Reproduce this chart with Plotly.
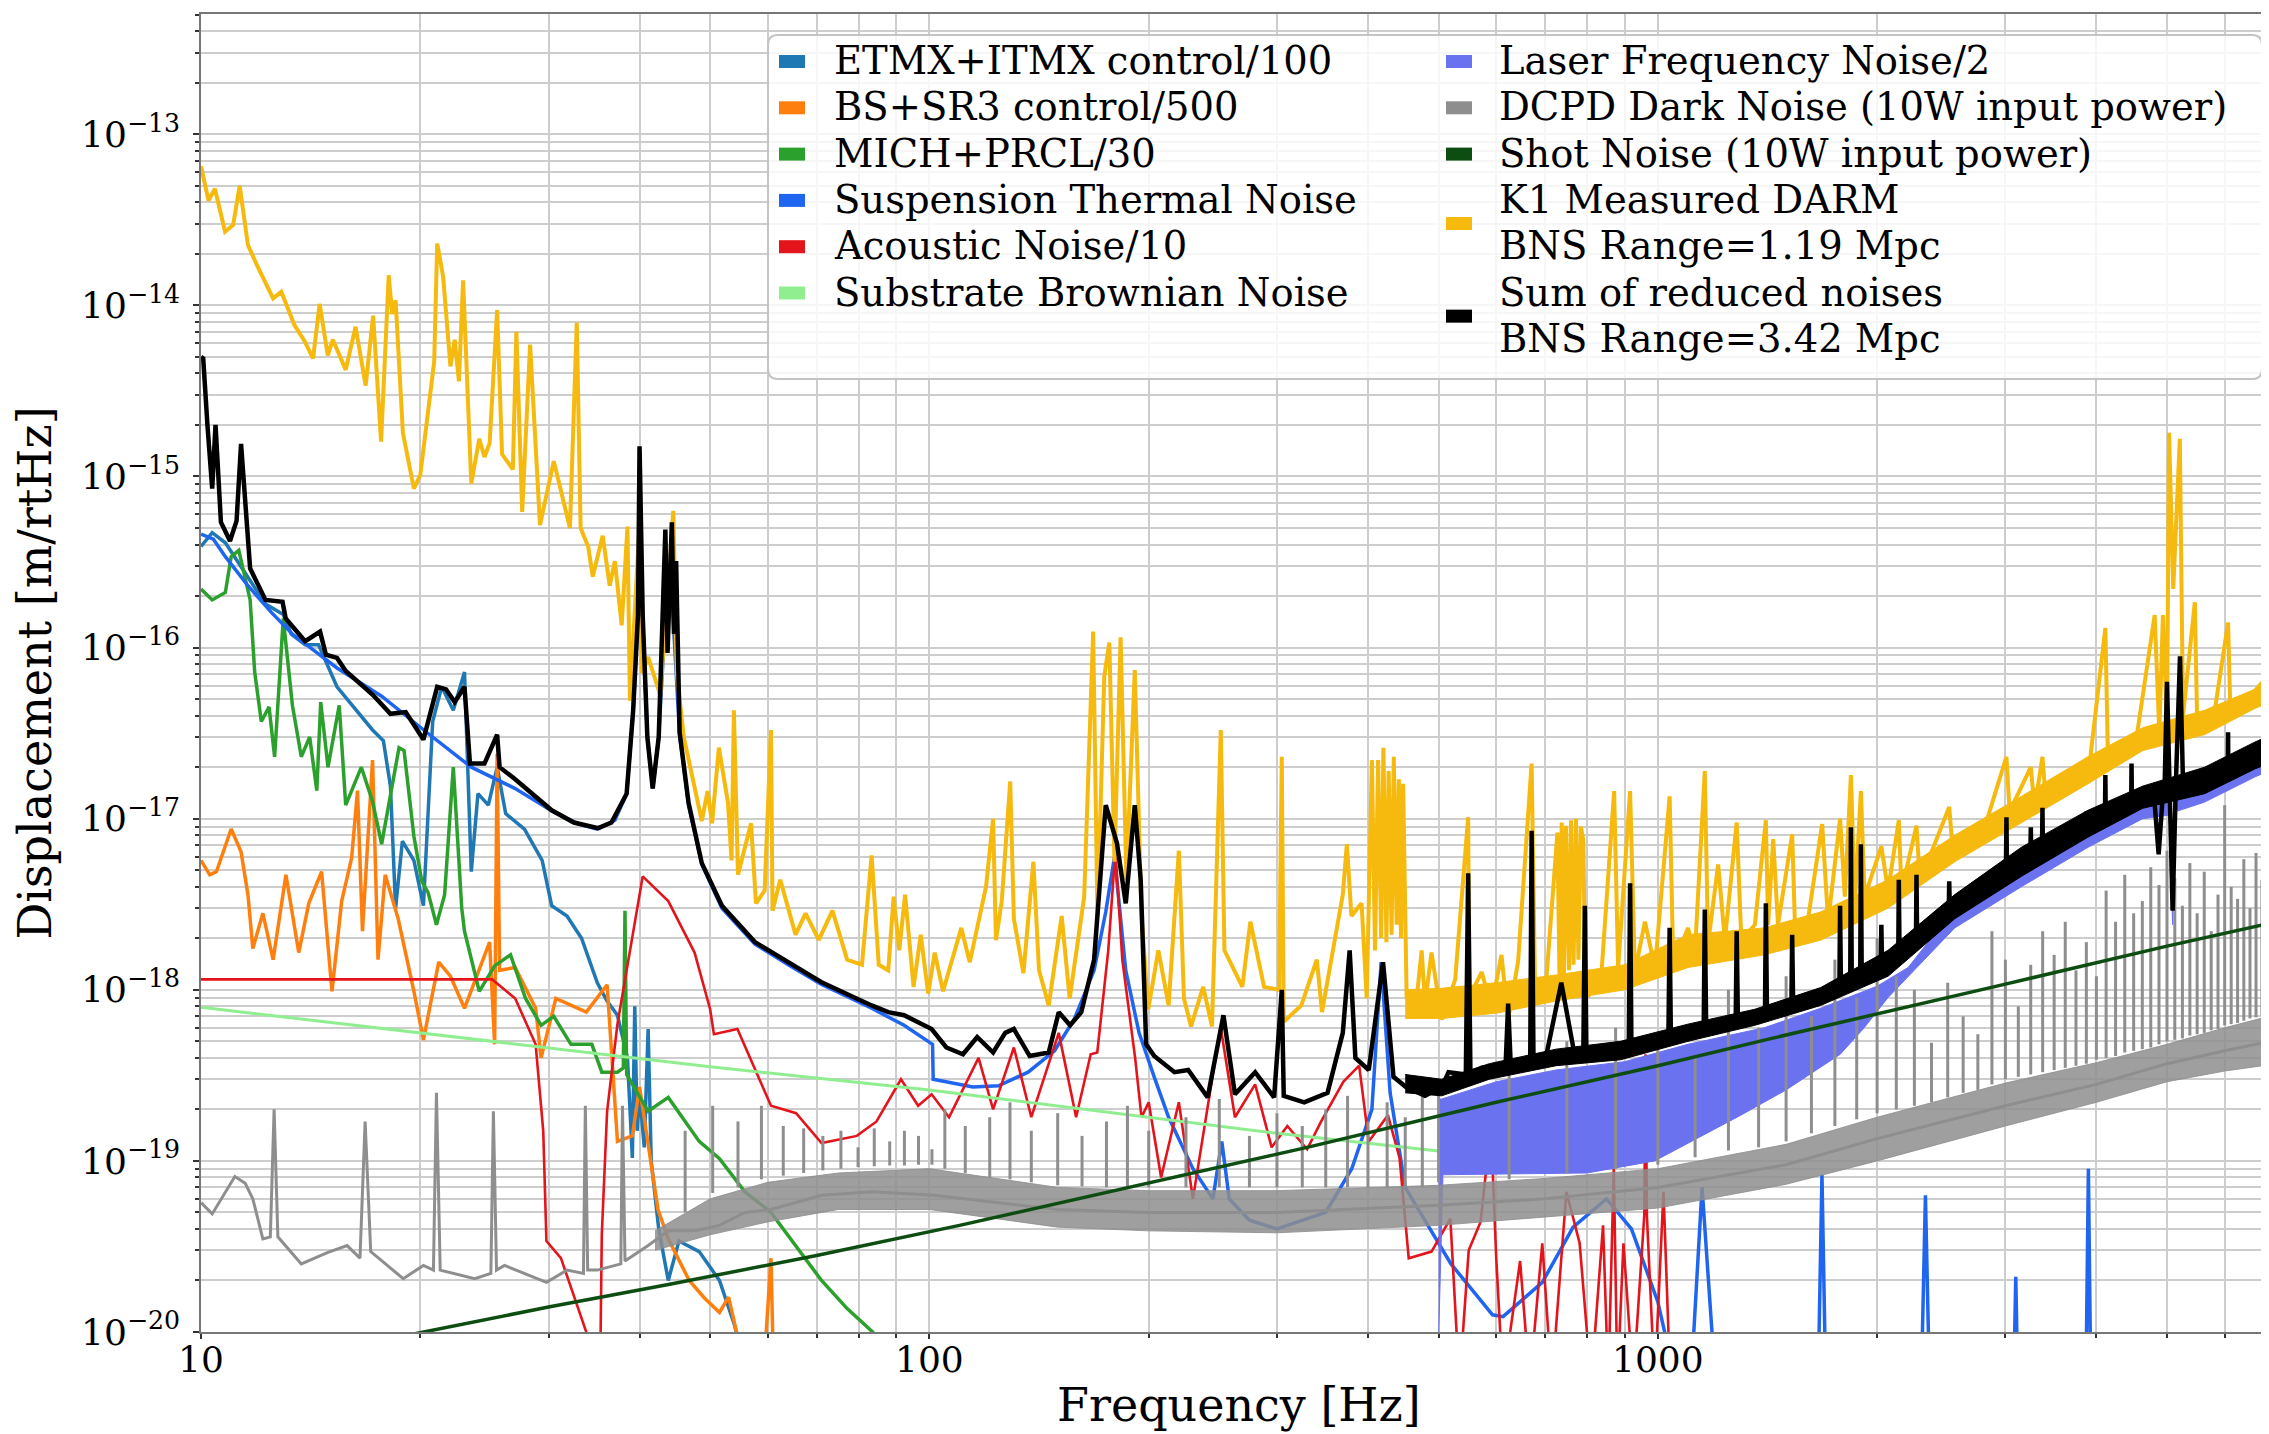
import plotly.graph_objects as go

# ---------------- data (frequency [Hz], displacement [m/rtHz]) ----------------
ETMX_PTS = [(10.0, 3.9e-16), (10.36, 4.7e-16), (10.8, 4.1e-16), (11.6, 2.6e-16), (12.26, 1.8e-16), (12.97, 1.56e-16),
            (13.3, 1.2e-16), (13.9, 1.04e-16), (14.5, 1.04e-16), (15.37, 5.9e-17), (16.37, 4.3e-17), (17.2, 3.3e-17),
            (17.8, 2.85e-17), (18.2, 1.55e-17), (18.5, 3.0e-18), (18.9, 7.4e-18), (19.6, 5.7e-18), (20.2, 3.1e-18),
            (20.8, 3.7e-17), (21.4, 5.9e-17), (22.2, 4.3e-17), (23.0, 7.2e-17), (23.5, 4.9e-18), (24.0, 1.4e-17),
            (24.8, 1.2e-17), (25.5, 2.0e-17), (26.2, 1.07e-17), (27.8, 8.7e-18), (29.4, 5.7e-18), (30.3, 3.1e-18),
            (31.8, 2.7e-18), (33.3, 2.0e-18), (35.0, 1.1e-18), (36.1, 8.6e-19), (37.3, 7.1e-19), (38.5, 4.0e-19),
            (39.1, 1.04e-19), (39.4, 8.0e-19), (39.7, 1.5e-19), (40.0, 2.5e-19), (40.6, 1.2e-19), (41.1, 5.9e-19),
            (41.5, 1.0e-19), (42.5, 4.0e-20), (43.8, 2.0e-20), (45.3, 3.4e-20), (48.3, 2.95e-20), (51.5, 2.0e-20),
            (54.0, 1.1e-20), (56.0, 6e-21)]

BS_PTS = [(10.0, 5.7e-18), (10.28, 4.7e-18), (10.5, 4.9e-18), (11.0, 8.7e-18), (11.35, 6.4e-18), (11.6, 3.6e-18),
          (11.78, 1.74e-18), (12.16, 2.8e-18), (12.56, 1.5e-18), (13.08, 4.7e-18), (13.62, 1.65e-18), (14.06, 3.2e-18),
          (14.64, 4.9e-18), (15.13, 9.8e-19), (15.6, 3.3e-18), (16.1, 5.9e-18), (16.4, 1.46e-17), (16.66, 2.2e-18),
          (17.2, 2.2e-17), (17.5, 1.5e-18), (17.9, 4.7e-18), (18.65, 2.6e-18), (19.6, 9.8e-19), (20.2, 5.1e-19),
          (21.2, 1.45e-18), (22.0, 1.2e-18), (23.0, 7.8e-19), (24.9, 1.9e-18), (25.3, 4.8e-19), (25.5, 2.4e-17),
          (25.7, 1.3e-18), (27.0, 1.35e-18), (28.8, 7.8e-19), (29.3, 4.0e-19), (30.7, 8.9e-19), (33.8, 7.4e-19),
          (36.1, 1.07e-18), (37.3, 1.3e-19), (39.1, 1.4e-19), (40.0, 2.7e-19), (42.4, 5.2e-20), (43.8, 3.5e-20),
          (46.8, 2.0e-20), (49.1, 1.58e-20), (51.5, 1.3e-20), (53.0, 1.6e-20), (55.0, 8e-21), (59.5, 8e-21),
          (60.6, 2.7e-20), (61.0, 8e-21)]

MICH_PTS = [(10.0, 2.2e-16), (10.36, 1.9e-16), (10.8, 2.1e-16), (11.0, 3.4e-16), (11.27, 3.7e-16), (11.68, 1.9e-16),
            (11.85, 7.2e-17), (12.1, 3.7e-17), (12.4, 4.5e-17), (12.62, 2.3e-17), (12.97, 1.48e-16), (13.35, 4.6e-17),
            (13.73, 2.3e-17), (14.1, 3.0e-17), (14.42, 1.46e-17), (14.6, 4.8e-17), (14.94, 2.0e-17), (15.48, 4.6e-17),
            (15.8, 1.2e-17), (16.6, 2.0e-17), (17.2, 1.26e-17), (17.7, 7.1e-18), (18.7, 2.6e-17), (19.0, 2.5e-17),
            (19.6, 7.9e-18), (20.1, 4.3e-18), (20.5, 3.7e-18), (21.05, 2.4e-18), (21.6, 3.6e-18), (22.2, 2.0e-17),
            (22.8, 3.0e-18), (23.0, 2.2e-18), (24.1, 9.8e-19), (25.3, 1.38e-18), (26.6, 1.6e-18), (27.9, 8.9e-19),
            (29.3, 6.2e-19), (30.5, 7.0e-19), (32.2, 4.8e-19), (34.4, 4.8e-19), (35.5, 3.3e-19), (37.3, 3.3e-19),
            (38.0, 3.5e-19), (38.2, 2.9e-18), (38.4, 3.2e-19), (41.1, 1.95e-19), (43.8, 2.35e-19), (48.3, 1.3e-19),
            (51.5, 1.03e-19), (55.8, 6.6e-20), (60.6, 5.0e-20), (65.6, 3.2e-20), (71.1, 2.0e-20), (77.1, 1.37e-20),
            (83.6, 1.0e-20), (86.0, 8e-21)]

SUS_PTS = [(10.0, 4.6e-16), (10.4, 4.3e-16), (10.8, 3.4e-16), (11.6, 2.3e-16), (12.5, 1.6e-16), (13.35, 1.2e-16),
           (15.37, 7.6e-17), (17.7, 5.2e-17), (20.4, 3.2e-17), (23.5, 2.0e-17), (27.0, 1.5e-17), (30.2, 1.12e-17),
           (33.0, 9.3e-18), (35.0, 8.7e-18), (37.0, 9.8e-18), (38.4, 1.4e-17), (39.2, 4.2e-17), (39.8, 1.5e-16),
           (40.2, 2.5e-16), (40.6, 9.0e-17), (41.0, 3.0e-17), (41.7, 1.5e-17), (42.5, 3.0e-17), (43.4, 1.5e-16),
           (44.0, 3.5e-16), (44.6, 1.2e-16), (45.4, 3.1e-17), (46.7, 1.2e-17), (48.7, 5.4e-18), (51.9, 3.0e-18),
           (57.6, 1.85e-18), (64.0, 1.4e-18), (71.0, 1.08e-18), (83.3, 7.8e-19), (92.3, 6.2e-19), (101.0, 4.8e-19),
           (101.2, 3.0e-19), (114.7, 2.7e-19), (124.4, 2.75e-19), (136.6, 3.3e-19), (148.5, 4.4e-19), (158.0, 6.7e-19),
           (168.3, 1.3e-18), (174.6, 2.85e-18), (179.5, 6.0e-18), (186.0, 1.3e-18), (194.0, 5.6e-19), (203.5, 3.1e-19),
           (213.0, 1.8e-19), (230.0, 9.0e-20), (245.0, 6.0e-20), (252.0, 1.3e-19), (258.0, 6.0e-20), (275.0, 4.5e-20),
           (300.0, 4.0e-20), (350.0, 5.0e-20), (380.0, 9.0e-20), (405.0, 2.0e-19), (417.0, 1.45e-18), (429.0, 2.5e-19),
           (450.0, 7.0e-20), (520.0, 2.5e-20), (593.0, 1.26e-20), (613.0, 1.23e-20), (694.0, 1.95e-20), (765.0, 4.1e-20),
           (850.0, 6.0e-20), (920.0, 4.0e-20), (1000.0, 1.5e-20), (1060.0, 5e-21), (1110.0, 5e-21), (1150.0, 7.0e-20),
           (1200.0, 5e-21), (1660.0, 5e-21), (1680.0, 8.3e-20), (1700.0, 5e-21), (2300.0, 5e-21), (2330.0, 6.3e-20),
           (2360.0, 5e-21), (3080.0, 5e-21), (3100.0, 2.1e-20), (3120.0, 5e-21), (3870.0, 5e-21), (3900.0, 9.0e-20),
           (3930.0, 5e-21), (6950.0, 5e-21), (7050.0, 1.7e-20), (7080.0, 1.2e-20)]

ACOUSTIC_PTS = [(10.0, 1.15e-18), (25.1, 1.15e-18), (27.0, 8.9e-19), (28.8, 4.8e-19), (29.5, 1.5e-19), (29.8, 3.4e-20),
                (31.2, 2.7e-20), (33.8, 1.0e-20), (34.5, 5e-21), (35.3, 5e-21), (35.5, 3.7e-20), (36.1, 1.95e-19),
                (37.3, 6.3e-19), (40.4, 4.6e-18), (43.8, 3.3e-18), (47.6, 1.65e-18), (50.0, 7.7e-19), (50.6, 5.5e-19),
                (54.5, 5.9e-19), (60.6, 2.1e-19), (65.6, 1.9e-19), (71.1, 1.27e-19), (79.5, 1.4e-19), (84.6, 1.7e-19),
                (91.4, 3.0e-19), (96.5, 2.1e-19), (100.7, 2.45e-19), (106.4, 1.8e-19), (116.8, 4.0e-19), (122.3, 2.0e-19),
                (130.6, 4.6e-19), (138.0, 1.8e-19), (150.5, 5.6e-19), (159.0, 1.8e-19), (166.5, 4.2e-19), (170.0, 4.3e-19),
                (176.0, 1.7e-18), (180.0, 6.5e-18), (184.0, 1.5e-18), (191.6, 4.0e-19), (195.5, 1.8e-19), (200.0, 2.2e-19),
                (208.0, 8.0e-20), (220.0, 2.2e-19), (230.0, 6.0e-20), (251.0, 6.1e-19), (262.7, 1.8e-19), (280.0, 2.8e-19),
                (295.0, 1.2e-19), (310.0, 1.6e-19), (330.0, 1.17e-19), (345.0, 1.7e-19), (370.0, 2.9e-19), (389.0, 3.6e-19),
                (401.0, 1.3e-19), (426.0, 1.85e-19), (442.0, 1.04e-19), (455.0, 2.7e-20), (489.0, 2.95e-20), (519.0, 4.6e-20),
                (534.0, 5e-21), (550.0, 3.0e-20), (571.0, 4.4e-20), (590.0, 1.6e-19), (600.0, 2.7e-20), (613.0, 5e-21),
                (647.0, 2.6e-20), (667.0, 5e-21), (694.0, 3.3e-20), (715.0, 5e-21), (749.0, 6.6e-20), (781.0, 3.3e-20),
                (810.0, 5e-21), (841.0, 4.2e-20), (855.0, 5e-21), (870.0, 9.0e-20), (880.0, 5e-21), (897.0, 3.3e-20),
                (925.0, 5e-21), (958.0, 4.8e-20), (962.0, 4.2e-19), (966.0, 4.8e-20), (990.0, 5e-21), (1018.0, 6.6e-20),
                (1040.0, 5e-21)]

SUBSTRATE_PTS = [(10.0, 7.9e-19), (20.0, 5.6e-19), (50.0, 3.55e-19), (100.0, 2.6e-19), (200.0, 1.8e-19),
                 (300.0, 1.45e-19), (503.0, 1.14e-19)]

LASER_UPPER = [(500, 2.3e-19), (505, 2.3e-19), (600, 2.9e-19), (725, 3.4e-19), (900, 3.8e-19), (1100, 4.8e-19),
               (1400, 6.0e-19), (1673, 7.8e-19), (2000, 1.05e-18), (2206, 1.35e-18), (2556, 3.0e-18), (3155, 5.5e-18),
               (3895, 9.0e-18), (4630, 1.3e-17), (5040, 1.3e-17), (5090, 3.2e-18), (5140, 1.35e-17), (5632, 1.6e-17),
               (6597, 2.3e-17), (7080, 2.6e-17)]
LASER_LOWER = [(500, 9e-21), (507, 8.3e-20), (800, 8.5e-20), (990, 1.0e-19), (1300, 1.85e-19), (1500, 2.6e-19),
               (1780, 4.2e-19), (1920, 6.0e-19), (2070, 9.0e-19), (2556, 2.3e-18), (3155, 4.0e-18), (3895, 6.8e-18),
               (4630, 1.0e-17), (5040, 1.05e-17), (5090, 2.4e-18), (5140, 1.1e-17), (5632, 1.25e-17), (6597, 1.75e-17),
               (7080, 2.0e-17)]

DCPD_PTS = [(10.0, 5.7e-20), (10.36, 4.9e-20), (11.13, 8.1e-20), (11.5, 7.4e-20), (11.78, 6.0e-20), (12.16, 3.5e-20),
            (12.45, 3.6e-20), (12.6, 2.0e-19), (12.75, 3.6e-20), (13.73, 2.5e-20), (14.88, 2.9e-20), (15.87, 3.2e-20),
            (16.53, 2.7e-20), (16.8, 1.7e-19), (17.1, 2.95e-20), (18.95, 2.05e-20), (20.2, 2.45e-20), (20.85, 2.3e-20),
            (21.05, 2.5e-19), (21.3, 2.3e-20), (23.75, 2.05e-20), (25.0, 2.2e-20), (25.2, 1.95e-19), (25.45, 2.3e-20),
            (26.1, 2.45e-20), (29.8, 1.95e-20), (31.8, 2.3e-20), (33.5, 2.2e-20), (33.7, 2.1e-19), (33.95, 2.3e-20),
            (35.0, 2.3e-20), (37.7, 2.5e-20), (37.9, 2.1e-19), (38.2, 2.6e-20), (41.1, 3.2e-20), (43.8, 3.9e-20),
            (47.6, 3.9e-20), (51.5, 4.2e-20), (55.8, 5.0e-20), (60.6, 5.2e-20), (71.1, 6.3e-20), (83.6, 6.6e-20),
            (101.5, 6.3e-20), (150, 5.2e-20), (200, 5.0e-20), (300, 5.0e-20), (500, 5.5e-20), (700, 6.0e-20),
            (1000, 7.0e-20), (1500, 9.5e-20), (2000, 1.35e-19), (3000, 2.1e-19), (4000, 2.8e-19), (5000, 3.7e-19),
            (6000, 4.4e-19), (7080, 5.1e-19)]
# (frequency, lower edge, upper edge) of the dense noise band
DCPD_BAND = [(42, 3.0e-20, 3.9e-20), (50, 3.7e-20, 6.0e-20), (60, 4.4e-20, 7.5e-20), (75, 5.2e-20, 8.5e-20),
             (100, 5.2e-20, 9.0e-20), (150, 4.1e-20, 7.0e-20), (200, 3.9e-20, 6.7e-20), (300, 3.8e-20, 6.7e-20),
             (500, 4.2e-20, 7.2e-20), (700, 4.7e-20, 7.9e-20), (1000, 5.3e-20, 9.0e-20), (1500, 7.3e-20, 1.25e-19),
             (2000, 1.0e-19, 1.8e-19), (3000, 1.6e-19, 2.85e-19), (4000, 2.2e-19, 3.75e-19), (5000, 2.9e-19, 4.8e-19),
             (6000, 3.35e-19, 6.0e-19), (7080, 3.7e-19, 7.2e-19)]
# (frequency, base, peak) of the comb lines
DCPD_LINES = [(46.2, 5e-20, 1.5e-19), (50.4, 6.5e-20, 2.1e-19), (54.6, 7e-20, 1.7e-19), (58.8, 7.8e-20, 2.1e-19),
              (63.0, 8.2e-20, 1.6e-19), (67.2, 8.5e-20, 1.55e-19), (71.4, 8.8e-20, 1.4e-19), (75.6, 9e-20, 1.5e-19),
              (79.8, 9.2e-20, 1.2e-19), (84.0, 9.3e-20, 1.55e-19), (88.2, 9.4e-20, 1.3e-19), (92.4, 9.4e-20, 1.5e-19),
              (96.6, 9.5e-20, 1.4e-19), (100.8, 9.5e-20, 1.17e-19), (105, 9e-20, 2.0e-19), (112, 8.5e-20, 1.6e-19),
              (121, 8e-20, 1.8e-19), (129, 7.8e-20, 2.2e-19), (138, 7.5e-20, 1.5e-19), (150, 7.2e-20, 1.9e-19),
              (162, 7.1e-20, 1.4e-19), (175, 7e-20, 1.7e-19), (187, 7e-20, 2.1e-19), (200, 7e-20, 1.5e-19),
              (225, 7e-20, 1.8e-19), (250, 7e-20, 2.3e-19), (275, 7e-20, 1.4e-19), (300, 7e-20, 1.9e-19),
              (325, 7e-20, 1.6e-19), (350, 7e-20, 2.0e-19), (375, 7e-20, 2.4e-19), (400, 7e-20, 1.7e-19),
              (425, 7e-20, 2.2e-19), (450, 7e-20, 1.8e-19), (475, 7e-20, 2.5e-19), (500, 7.5e-20, 3e-19),
              (625, 7.8e-20, 4e-19), (750, 8.4e-20, 5e-19), (875, 9e-20, 6e-19), (1000, 9.5e-20, 5e-19),
              (1125, 1.05e-19, 4e-19), (1250, 1.15e-19, 1.0e-18), (1375, 1.2e-19, 6e-19), (1500, 1.3e-19, 1.2e-18),
              (1625, 1.45e-19, 7e-19), (1750, 1.6e-19, 1.5e-18), (1875, 1.75e-19, 9e-19), (2000, 1.9e-19, 2.0e-18),
              (2125, 2.0e-19, 1.2e-18), (2250, 2.1e-19, 1.0e-18), (2375, 2.2e-19, 4.9e-19), (2500, 2.35e-19, 1.1e-18),
              (2625, 2.5e-19, 7e-19), (2750, 2.6e-19, 5.5e-19), (2875, 2.8e-19, 2.2e-18), (3000, 3.0e-19, 1.5e-18),
              (3125, 3.1e-19, 8e-19), (3250, 3.2e-19, 1.4e-18), (3375, 3.3e-19, 2.2e-18), (3500, 3.4e-19, 1.6e-18),
              (3625, 3.5e-19, 2.5e-18), (3750, 3.6e-19, 1.3e-18), (3875, 3.7e-19, 1.9e-18), (4000, 3.9e-19, 1.2e-18),
              (4125, 4.0e-19, 3.8e-18), (4250, 4.1e-19, 2.5e-18), (4375, 4.3e-19, 4.7e-18), (4500, 4.4e-19, 2.8e-18),
              (4625, 4.5e-19, 3.3e-18), (4750, 4.6e-19, 5.2e-18), (4875, 4.8e-19, 4.1e-18), (5000, 5.0e-19, 6.5e-18),
              (5125, 5.1e-19, 4.5e-18), (5250, 5.2e-19, 3.1e-18), (5375, 5.4e-19, 5.5e-18), (5500, 5.5e-19, 2.8e-18),
              (5625, 5.6e-19, 4.9e-18), (5750, 5.8e-19, 2.2e-18), (5875, 5.9e-19, 3.6e-18), (6000, 6.2e-19, 1.2e-17),
              (6125, 6.3e-19, 4e-18), (6250, 6.4e-19, 3.4e-18), (6375, 6.6e-19, 5.8e-18), (6500, 6.8e-19, 3e-18),
              (6625, 6.9e-19, 6.3e-18), (6750, 7.1e-19, 4.4e-18), (6875, 7.3e-19, 5.1e-18), (7000, 7.5e-19, 3.8e-18)]

SHOT_PTS = [(19.5, 9.7e-21), (30, 1.4e-20), (44, 1.9e-20), (70, 2.8e-20), (110, 4.2e-20), (200, 7.4e-20),
            (330, 1.2e-19), (600, 2.2e-19), (1000, 3.6e-19), (1405, 5.1e-19), (2000, 7.2e-19), (3000, 1.08e-18),
            (5000, 1.8e-18), (7080, 2.5e-18)]

K1_PTS = [(10.0, 6.5e-14), (10.24, 4.1e-14), (10.45, 4.8e-14), (10.79, 2.7e-14), (11.07, 2.95e-14), (11.3, 5.0e-14),
          (11.6, 2.25e-14), (11.98, 1.66e-14), (12.56, 1.1e-14), (12.89, 1.2e-14), (13.43, 7.7e-15), (13.87, 6.2e-15),
          (14.25, 4.9e-15), (14.55, 1.02e-14), (14.93, 5.1e-15), (15.17, 6.3e-15), (15.8, 4.2e-15), (16.3, 7.5e-15),
          (16.83, 3.4e-15), (17.23, 8.7e-15), (17.67, 1.6e-15), (18.1, 1.5e-14), (18.3, 8.9e-15), (18.5, 1.07e-14),
          (18.93, 1.8e-15), (19.6, 8.5e-16), (20.0, 1.02e-15), (20.9, 4.7e-15), (21.1, 2.3e-14), (21.5, 1.47e-14),
          (22.0, 4.4e-15), (22.3, 6.3e-15), (22.6, 3.6e-15), (22.9, 1.4e-14), (23.5, 9.1e-16), (24.1, 1.66e-15),
          (24.5, 1.3e-15), (24.9, 1.56e-15), (25.5, 9.4e-15), (25.9, 1.35e-15), (26.8, 1.1e-15), (27.1, 7.0e-15),
          (27.6, 6.2e-16), (28.3, 5.9e-15), (29.2, 5.2e-16), (30.5, 1.23e-15), (32.1, 5.0e-16), (32.8, 7.9e-15),
          (33.2, 5.0e-16), (34.0, 3.9e-16), (34.5, 2.6e-16), (35.6, 4.5e-16), (36.4, 2.3e-16), (37.0, 3.2e-16),
          (37.8, 1.35e-16), (38.5, 5.1e-16), (38.8, 4.9e-17), (39.9, 4.4e-16), (40.3, 7.1e-17), (41.1, 8.8e-17),
          (42.7, 5.3e-17), (44.5, 6.3e-16), (45.0, 7.1e-17), (46.0, 3.0e-17), (48.7, 9.7e-18), (49.6, 1.45e-17),
          (50.3, 9.4e-18), (51.4, 2.6e-17), (52.9, 1.24e-17), (53.5, 5.7e-18), (53.9, 4.3e-17), (54.6, 4.7e-18),
          (56.9, 9.4e-18), (57.8, 3.2e-18), (59.4, 3.8e-18), (60.6, 3.3e-17), (60.9, 2.9e-18), (62.4, 4.4e-18),
          (65.5, 2.1e-18), (67.6, 2.8e-18), (70.5, 1.96e-18), (73.6, 2.9e-18), (77.1, 1.5e-18), (80.8, 1.4e-18),
          (83.3, 6.1e-18), (85.2, 1.4e-18), (87.8, 1.3e-18), (89.3, 3.5e-18), (90.9, 1.7e-18), (92.6, 3.6e-18),
          (95.1, 1.04e-18), (97.3, 2.1e-18), (99.6, 9.5e-19), (101.7, 1.65e-18), (104.4, 9.8e-19), (110.6, 2.3e-18),
          (113.6, 1.45e-18), (119.6, 4.0e-18), (122.3, 1.0e-17), (123.4, 1.95e-18), (125.7, 3.3e-18), (129.1, 1.65e-17),
          (130.6, 2.6e-18), (134.6, 1.25e-18), (138.9, 5.6e-18), (141.4, 1.3e-18), (145.8, 8.1e-19), (151.9, 2.7e-18),
          (155.8, 8.9e-19), (163.1, 3.5e-18), (167.8, 1.24e-16), (170.1, 2.7e-18), (173.8, 6.8e-17), (176.6, 1.07e-16),
          (179.5, 5.6e-18), (183.0, 1.15e-16), (186.4, 4.4e-18), (191.4, 7.4e-17), (195.5, 2.7e-18), (199.7, 7.7e-19),
          (206.2, 1.7e-18), (213.0, 8.1e-19), (220.0, 6.5e-18), (223.6, 8.9e-19), (228.6, 6.1e-19), (237.6, 1.04e-18),
          (244.3, 6.1e-19), (251.2, 3.3e-17), (254.1, 1.7e-18), (268.9, 1.04e-18), (275.8, 2.5e-18), (288.0, 1.04e-18),
          (302.0, 1.0e-18), (304.6, 2.3e-17), (306.5, 6.5e-19), (324.0, 8.1e-19), (340.3, 1.5e-18), (345.9, 7.4e-19),
          (369.4, 3.6e-18), (374.2, 7.1e-18), (379.6, 2.7e-18), (392.0, 3.2e-18), (398.4, 8.9e-19), (405, 2.2e-17),
          (409, 1.7e-18), (413, 2.2e-17), (417, 2.0e-18), (420, 2.6e-17), (424, 1.9e-18), (427, 1.9e-17),
          (431, 2.1e-18), (434, 2.3e-17), (438, 2.4e-18), (441, 1.7e-17), (444, 2.0e-18), (447, 1.6e-17),
          (452, 9.1e-19), (464, 7.1e-19), (474, 1.7e-18), (479, 8.3e-19), (489, 1.65e-18), (505, 6.7e-19),
          (527, 1.15e-18), (549, 1.02e-17), (551, 9.1e-19), (573, 1.27e-18), (591, 7.9e-19), (610, 1.6e-18),
          (623, 6.7e-19), (643, 1.47e-18), (671, 2.1e-17), (678, 1.15e-18), (700, 9.1e-19), (728, 8.3e-18),
          (733, 1.1e-18), (738, 9.5e-18), (743, 1.2e-18), (748, 9.1e-18), (755, 1.3e-18), (760, 9.8e-18),
          (766, 1.4e-18), (772, 1.0e-17), (778, 1.5e-18), (784, 9.0e-18), (790, 7.5e-18), (795, 1.2e-18),
          (802, 9.1e-19), (837, 1.27e-18), (871, 1.45e-17), (882, 1.34e-18), (916, 1.45e-17), (930, 1.27e-18),
          (960, 2.5e-18), (991, 1.34e-18), (1038, 1.35e-17), (1050, 1.4e-18), (1100, 2.3e-18), (1124, 1.6e-18),
          (1160, 1.9e-17), (1172, 1.85e-18), (1210, 5.4e-18), (1236, 1.95e-18), (1283, 9.5e-18), (1302, 1.95e-18),
          (1359, 2.4e-18), (1407, 9.8e-18), (1417, 2.4e-18), (1440, 7.6e-18), (1462, 2.4e-18), (1529, 8.1e-18),
          (1542, 2.5e-18), (1608, 2.6e-18), (1681, 9.3e-18), (1713, 2.5e-18), (1779, 1.0e-17), (1806, 3.5e-18),
          (1841, 1.8e-17), (1864, 3.2e-18), (1900, 1.45e-17), (1923, 3.5e-18), (2027, 6.9e-18), (2070, 3.8e-18),
          (2142, 9.8e-18), (2160, 3.8e-18), (2265, 9.1e-18), (2290, 4.3e-18), (2512, 1.17e-17), (2540, 6.5e-18),
          (2800, 8.5e-18), (3010, 2.3e-17), (3040, 1.1e-17), (3251, 2.0e-17), (3290, 1.15e-17), (3373, 2.3e-17),
          (3410, 1.25e-17), (3600, 1.5e-17), (3874, 2.2e-17), (3910, 2.0e-17), (4115, 1.3e-16), (4150, 2.1e-17),
          (4400, 2.5e-17), (4470, 3.0e-17), (4520, 2.6e-17), (4809, 1.55e-16), (4880, 3.2e-17), (4936, 1.55e-16),
          (5000, 3.5e-17), (5033, 1.8e-15), (5100, 2.2e-16), (5207, 1.66e-15), (5260, 4.0e-17), (5460, 1.84e-16),
          (5500, 3.7e-17), (5800, 4.0e-17), (6065, 1.4e-16), (6110, 4.2e-17), (6400, 4.8e-17), (7030, 7.6e-17),
          (7080, 5.9e-17)]
K1_BAND = [(450, 6.8e-19, 1.0e-18), (505, 6.8e-19, 1.02e-18), (600, 7.3e-19, 1.1e-18), (725, 8.6e-19, 1.22e-18),
           (900, 1.0e-18, 1.4e-18), (1100, 1.35e-18, 2.1e-18), (1400, 1.6e-18, 2.3e-18), (1673, 1.95e-18, 2.85e-18),
           (2070, 3.0e-18, 4.4e-18), (2556, 5.6e-18, 8.0e-18), (3155, 9.5e-18, 1.35e-17), (3895, 1.6e-17, 2.3e-17),
           (4630, 2.5e-17, 3.4e-17), (5632, 3.1e-17, 4.3e-17), (6597, 4.4e-17, 5.7e-17), (7080, 5.0e-17, 6.6e-17)]

SUM_PTS = [(10.0, 5.0e-15), (10.07, 4.9e-15), (10.21, 1.95e-15), (10.36, 8.5e-16), (10.47, 2.0e-15), (10.65, 5.4e-16),
           (10.96, 4.2e-16), (11.19, 5.5e-16), (11.35, 1.55e-15), (11.51, 6.3e-16), (11.68, 2.9e-16), (12.26, 1.9e-16),
           (12.94, 1.85e-16), (13.07, 1.48e-16), (13.9, 1.09e-16), (14.57, 1.24e-16), (14.84, 9.1e-17), (15.37, 8.7e-17),
           (15.8, 7.3e-17), (17.21, 5.3e-17), (18.2, 4.1e-17), (19.1, 4.2e-17), (20.2, 2.9e-17), (21.1, 5.9e-17),
           (21.7, 5.7e-17), (22.3, 4.8e-17), (23.0, 5.9e-17), (23.4, 2.1e-17), (24.5, 2.1e-17), (25.5, 3.1e-17),
           (25.7, 2.0e-17), (27.0, 1.7e-17), (30.3, 1.12e-17), (32.5, 9.5e-18), (35.1, 8.8e-18), (36.6, 9.5e-18),
           (38.4, 1.4e-17), (39.2, 4.3e-17), (39.8, 1.55e-16), (40.0, 1.5e-15), (40.4, 1.55e-16), (41.0, 3.0e-17),
           (41.7, 1.5e-17), (42.5, 3.0e-17), (43.4, 4.9e-16), (43.7, 9.3e-17), (44.3, 5.4e-16), (44.6, 1.2e-16),
           (44.9, 3.2e-16), (45.4, 3.2e-17), (46.7, 1.24e-17), (48.7, 5.5e-18), (51.9, 3.1e-18), (57.6, 1.9e-18),
           (64.0, 1.46e-18), (71.0, 1.11e-18), (83.3, 8.1e-19), (87.8, 7.4e-19), (92.3, 7.1e-19), (100.7, 5.9e-19),
           (105.5, 4.6e-19), (111.2, 4.2e-19), (116.3, 5.3e-19), (122.3, 4.3e-19), (127.1, 5.6e-19), (130.6, 5.9e-19),
           (137.3, 4.1e-19), (145.8, 4.3e-19), (150.5, 7.4e-19), (156.0, 6.2e-19), (161.6, 7.4e-19), (168.3, 1.5e-18),
           (174.6, 1.2e-17), (180.9, 7.2e-18), (186.0, 3.2e-18), (191.4, 1.2e-17), (195.0, 4.4e-18), (198.4, 4.8e-19),
           (203.5, 4.1e-19), (217.0, 3.3e-19), (226.6, 3.4e-19), (241.0, 2.35e-19), (253.3, 7.1e-19), (262.7, 2.45e-19),
           (280.0, 3.3e-19), (297.3, 2.35e-19), (304.6, 1.0e-18), (306.5, 2.4e-19), (327.0, 2.2e-19), (352.0, 2.5e-19),
           (369.4, 5.6e-19), (377.5, 1.7e-18), (384.4, 4.0e-19), (401.0, 3.4e-19), (419.5, 1.45e-18), (433.6, 3.1e-19),
           (451.0, 2.7e-19), (479.0, 2.4e-19), (505.0, 2.7e-19), (516.0, 3.3e-19), (545.0, 3.2e-19), (549.0, 4.8e-18),
           (553.0, 3.2e-19), (573.0, 3.5e-19), (618.0, 3.6e-19), (623.0, 8.3e-19), (628.0, 3.7e-19), (649.0, 3.7e-19),
           (668.0, 3.8e-19), (671.0, 8.5e-18), (675.0, 3.8e-19), (700.0, 3.8e-19), (737.0, 1.1e-18), (770.0, 4.0e-19),
           (790.0, 4.0e-19), (794.0, 3.1e-18), (798.0, 4.0e-19), (850.0, 4.3e-19), (912.0, 4.3e-19), (916.0, 4.2e-18),
           (920.0, 4.4e-19), (960.0, 4.8e-19), (1034, 5.5e-19), (1038, 2.3e-18), (1042, 5.5e-19), (1100, 5.7e-19),
           (1156, 6.0e-19), (1160, 2.95e-18), (1165, 6.0e-19), (1279, 6.6e-19), (1283, 2.2e-18), (1288, 6.6e-19),
           (1403, 7.0e-19), (1407, 3.2e-18), (1412, 7.1e-19), (1525, 7.8e-19), (1529, 2.1e-18), (1534, 7.8e-19),
           (1673, 9.2e-19), (1775, 1.0e-18), (1779, 3.1e-18), (1784, 1.0e-18), (1837, 1.1e-18), (1841, 8.9e-18),
           (1846, 1.1e-18), (1896, 1.2e-18), (1900, 7.1e-18), (1905, 1.2e-18), (2023, 1.4e-18), (2027, 2.4e-18),
           (2031, 1.45e-18), (2138, 1.5e-18), (2142, 4.4e-18), (2147, 1.55e-18), (2261, 1.8e-18), (2265, 4.7e-18),
           (2270, 1.8e-18), (2508, 2.9e-18), (2512, 4.3e-18), (2517, 2.9e-18), (2800, 4.0e-18), (3005, 5.0e-18),
           (3010, 1.02e-17), (3015, 5.1e-18), (3246, 6.0e-18), (3251, 8.9e-18), (3256, 6.0e-18), (3368, 6.5e-18),
           (3373, 1.16e-17), (3378, 6.6e-18), (3600, 7.8e-18), (3869, 9.2e-18), (3874, 1.1e-17), (3879, 9.3e-18),
           (4110, 1.05e-17), (4115, 1.8e-17), (4120, 1.05e-17), (4465, 1.2e-17), (4470, 2.1e-17), (4475, 1.2e-17),
           (4800, 1.35e-17), (4870, 6.2e-18), (4930, 1.3e-17), (4960, 1.4e-17), (5000, 6.3e-17), (5040, 1.2e-17),
           (5090, 2.9e-18), (5140, 1.5e-17), (5210, 8.9e-17), (5260, 1.6e-17), (5632, 1.6e-17), (6060, 1.9e-17),
           (6065, 3.2e-17), (6070, 1.9e-17), (6597, 2.4e-17), (7080, 2.7e-17)]
SUM_BAND = [(450, 2.5e-19, 3.2e-19), (505, 2.4e-19, 3.0e-19), (587, 3.0e-19, 3.7e-19), (725, 3.6e-19, 4.5e-19),
            (889, 3.9e-19, 5.0e-19), (1100, 5.0e-19, 6.3e-19), (1359, 6.2e-19, 7.7e-19), (1673, 8.1e-19, 1.03e-18),
            (2070, 1.2e-18, 1.7e-18), (2556, 2.6e-18, 3.6e-18), (3155, 4.6e-18, 6.8e-18), (3895, 7.8e-18, 1.12e-17),
            (4630, 1.15e-17, 1.55e-17), (5632, 1.4e-17, 2.0e-17), (6597, 1.95e-17, 2.8e-17), (7080, 2.2e-17, 3.2e-17)]

X_TICKS = [10, 100, 1000]
X_TICK_TEXT = ["10", "100", "1000"]
Y_EXPONENTS = [-20, -19, -18, -17, -16, -15, -14, -13]

LEGEND_LEFT = [("ETMX+ITMX control/100", "#1f77b4"), ("BS+SR3 control/500", "#ff7f0e"), ("MICH+PRCL/30", "#2ca02c"),
               ("Suspension Thermal Noise", "#1f65f0"), ("Acoustic Noise/10", "#e3141b"),
               ("Substrate Brownian Noise", "#90ee90")]
LEGEND_RIGHT = [(["Laser Frequency Noise/2"], "#6b72f0"), (["DCPD Dark Noise (10W input power)"], "#8e8e8e"),
                (["Shot Noise (10W input power)"], "#0e4d12"), (["K1 Measured DARM", "BNS Range=1.19 Mpc"], "#f6b90d"),
                (["Sum of reduced noises", "BNS Range=3.42 Mpc"], "#000000")]

# ---------------- figure ----------------
FONT = "DejaVu Serif"
fig = go.Figure()


def add_line(pts, color, width, name):
    fig.add_trace(go.Scatter(x=[p[0] for p in pts], y=[p[1] for p in pts], mode="lines", name=name,
                             line=dict(color=color, width=width), showlegend=False, hoverinfo="skip"))


def add_band(band, color, name):
    xs = [b[0] for b in band] + [b[0] for b in reversed(band)]
    ys = [b[2] for b in band] + [b[1] for b in reversed(band)]
    fig.add_trace(go.Scatter(x=xs, y=ys, mode="lines", fill="toself", fillcolor=color, name=name,
                             line=dict(color=color, width=1), showlegend=False, hoverinfo="skip"))


def add_poly(upper, lower, color, name):
    xs = [p[0] for p in upper] + [p[0] for p in reversed(lower)]
    ys = [p[1] for p in upper] + [p[1] for p in reversed(lower)]
    fig.add_trace(go.Scatter(x=xs, y=ys, mode="lines", fill="toself", fillcolor=color, name=name,
                             line=dict(color=color, width=1), showlegend=False, hoverinfo="skip"))


def add_comb(lines, color, width, name):
    xs, ys = [], []
    for f, base, peak in lines:
        xs += [f, f, None]
        ys += [base, peak, None]
    fig.add_trace(go.Scatter(x=xs, y=ys, mode="lines", line=dict(color=color, width=width), name=name,
                             showlegend=False, hoverinfo="skip", connectgaps=False))


col = {name: c for name, c in LEGEND_LEFT}
col.update({lines[0]: c for lines, c in LEGEND_RIGHT})

add_line(ETMX_PTS, col["ETMX+ITMX control/100"], 3.5, "ETMX+ITMX control/100")
add_line(BS_PTS, col["BS+SR3 control/500"], 3.5, "BS+SR3 control/500")
add_line(MICH_PTS, col["MICH+PRCL/30"], 3.5, "MICH+PRCL/30")
add_line(SUS_PTS, col["Suspension Thermal Noise"], 3.5, "Suspension Thermal Noise")
add_line(ACOUSTIC_PTS, col["Acoustic Noise/10"], 2.6, "Acoustic Noise/10")
add_line(SUBSTRATE_PTS, col["Substrate Brownian Noise"], 3.0, "Substrate Brownian Noise")
add_poly(LASER_UPPER, LASER_LOWER, col["Laser Frequency Noise/2"], "Laser Frequency Noise/2")
gray = col["DCPD Dark Noise (10W input power)"]
add_band(DCPD_BAND, "rgba(142,142,142,0.85)", "DCPD Dark Noise")
add_line(DCPD_PTS, gray, 3.0, "DCPD Dark Noise")
add_comb(DCPD_LINES, gray, 3.0, "DCPD Dark Noise")
add_line(SHOT_PTS, col["Shot Noise (10W input power)"], 3.5, "Shot Noise")
k1c = col["K1 Measured DARM"]
add_band(K1_BAND, k1c, "K1 Measured DARM")
add_line(K1_PTS, k1c, 4.0, "K1 Measured DARM")
add_band(SUM_BAND, "#000000", "Sum of reduced noises")
add_line(SUM_PTS, "#000000", 4.5, "Sum of reduced noises")

# plot area in pixels: left 193, right 2269, top 6, bottom 1324
PL, PR, PT, PB = 193, 2269, 6, 1324
W, H = PR - PL, PB - PT


def px(x):
    return (x - PL) / W


def py(y):
    return (PB - y) / H


# legend: rounded frame, colour keys and labels (two columns)
x0, x1, y0, y1 = px(760), px(2254), py(371), py(27)
rx, ry = 10 / W, 10 / H
frame = (f"M {x0+rx},{y1} L {x1-rx},{y1} Q {x1},{y1} {x1},{y1-ry} L {x1},{y0+ry} Q {x1},{y0} {x1-rx},{y0} "
         f"L {x0+rx},{y0} Q {x0},{y0} {x0},{y0+ry} L {x0},{y1-ry} Q {x0},{y1} {x0+rx},{y1} Z")
shapes = [dict(type="path", xref="paper", yref="paper", path=frame, fillcolor="rgba(255,255,255,0.82)",
               line=dict(color="#c4c4c4", width=2), layer="above")]
annotations = []
ROW = 46.3
TOP_ROW = 52.5
LEFT_KEY, LEFT_TEXT = 784, 824
RIGHT_KEY, RIGHT_TEXT = 1451, 1489
KEY_W, KEY_H = 26, 13


def key(xc, yc, color):
    shapes.append(dict(type="rect", xref="paper", yref="paper", x0=px(xc - KEY_W / 2), x1=px(xc + KEY_W / 2),
                       y0=py(yc + KEY_H / 2), y1=py(yc - KEY_H / 2), fillcolor=color, line=dict(width=0),
                       layer="above"))


def label(x, yc, text):
    annotations.append(dict(xref="paper", yref="paper", x=px(x), y=py(yc), xanchor="left", yanchor="middle",
                            text=text, showarrow=False, font=dict(family=FONT, size=38.5, color="black")))


for i, (name, c) in enumerate(LEGEND_LEFT):
    yc = TOP_ROW + i * ROW
    key(LEFT_KEY, yc + 1, c)
    label(LEFT_TEXT, yc, name)

line_no = 0
for lines, c in LEGEND_RIGHT:
    ys = [TOP_ROW + (line_no + k) * ROW for k in range(len(lines))]
    key(RIGHT_KEY, sum(ys) / len(ys) + 1, c)
    for yy, t in zip(ys, lines):
        label(RIGHT_TEXT, yy, t)
    line_no += len(lines)

# x-axis title placed below the tick labels
annotations.append(dict(xref="paper", yref="paper", x=0.5, y=py(1397), xanchor="center", yanchor="middle",
                        text="Frequency [Hz]", showarrow=False, font=dict(family=FONT, size=46, color="black")))

minor_x = [m * 10 ** d for d in (1, 2, 3) for m in range(2, 10)]
minor_y = [m * 10.0 ** d for d in range(-20, -12) for m in range(2, 10)]
grid_c = "#cdcdcd"

fig.update_layout(
    width=2269, height=1434,
    margin=dict(l=PL, r=2269 - PR, t=PT, b=1434 - PB),
    paper_bgcolor="white", plot_bgcolor="white",
    font=dict(family=FONT, color="black", size=36),
    showlegend=False,
    shapes=shapes,
    annotations=annotations,
    xaxis=dict(type="log", range=[1, 3.85], tickmode="array", tickvals=X_TICKS, ticktext=X_TICK_TEXT,
               ticks="outside", ticklen=5, tickwidth=1.5, tickcolor="#333", ticklabelstandoff=-10,
               tickfont=dict(family=FONT, size=36, color="black"),
               showgrid=True, gridcolor=grid_c, gridwidth=1.5,
               minor=dict(tickmode="array", tickvals=minor_x, ticks="outside", ticklen=4, tickcolor="#333",
                          showgrid=True, gridcolor=grid_c, gridwidth=1.5),
               showline=True, linecolor="#777", linewidth=1.5, mirror=True, zeroline=False, automargin=False),
    yaxis=dict(type="log", range=[-20, -12.297], tickmode="array", tickvals=[10.0 ** e for e in Y_EXPONENTS],
               ticktext=["10<sup>\u2212%d</sup>" % (-e) for e in Y_EXPONENTS],
               ticks="outside", ticklen=6, tickwidth=1.5, tickcolor="#333", ticklabelstandoff=6,
               tickfont=dict(family=FONT, size=36, color="black"),
               showgrid=True, gridcolor=grid_c, gridwidth=1.5,
               minor=dict(tickmode="array", tickvals=minor_y, ticks="outside", ticklen=4, tickcolor="#333",
                          showgrid=True, gridcolor=grid_c, gridwidth=1.5),
               showline=True, linecolor="#777", linewidth=1.5, mirror=False, zeroline=False, automargin=False,
               title=dict(text="Displacement [m/rtHz]", font=dict(family=FONT, size=46, color="black"), standoff=18)),
)

fig.write_html("out.html")
